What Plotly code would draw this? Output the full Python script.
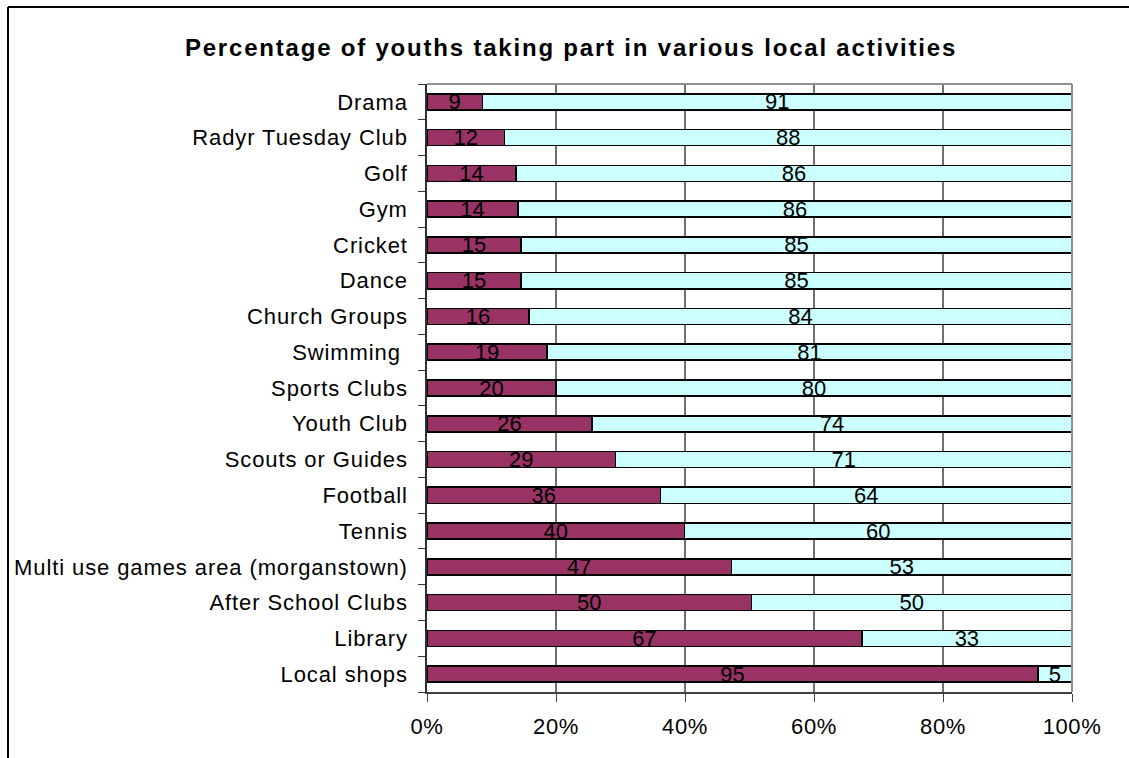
import plotly.graph_objects as go

# activities, top to bottom as in the chart
activities = [
    "Drama", "Radyr Tuesday Club", "Golf", "Gym", "Cricket", "Dance",
    "Church Groups", "Swimming ", "Sports Clubs", "Youth Club",
    "Scouts or Guides", "Football", "Tennis",
    "Multi use games area (morganstown)", "After School Clubs",
    "Library", "Local shops",
]

# percentage taking part / not taking part
take_part = [8.6, 12.0, 13.8, 14.1, 14.6, 14.6, 15.8, 18.6, 20.0, 25.6,
             29.2, 36.2, 39.9, 47.2, 50.3, 67.4, 94.7]
not_take_part = [91.4, 88.0, 86.2, 85.9, 85.4, 85.4, 84.2, 81.4, 80.0, 74.4,
                 70.8, 63.8, 60.1, 52.8, 49.7, 32.6, 5.3]

x_ticks = [0, 20, 40, 60, 80, 100]

FONT = "Liberation Sans, Arial, sans-serif"


def spaced(txt, px):
    # excel-ish loose letter spacing
    return f"<span style='letter-spacing:{px}px'>{txt}</span>"


fig = go.Figure()
for vals, colour in [(take_part, "#993366"), (not_take_part, "#CCFFFF")]:
    fig.add_trace(go.Bar(
        x=vals,
        y=activities,
        orientation="h",
        marker=dict(color=colour, line=dict(color="black", width=1.6)),
        texttemplate="%{x:.0f}",
        textposition="inside",
        insidetextanchor="middle",
        textangle=0,
        constraintext="none",
        textfont=dict(family=FONT, size=22, color="black"),
        showlegend=False,
        hoverinfo="skip",
    ))

# plot area in pixels: x 427..1072, y 84..692
L, R, T, B = 427, 1072, 84, 692
W, H = R - L, B - T


def px_x(p):
    return (p - L) / W


def px_y(p):
    return (B - p) / H


fig.update_layout(
    width=1129,
    height=758,
    barmode="stack",
    bargap=0.55,
    plot_bgcolor="white",
    paper_bgcolor="white",
    margin=dict(l=L, r=1129 - R, t=T, b=758 - B),
    font=dict(family=FONT, size=22, color="black"),
    title=dict(
        text="<b>" + spaced("Percentage of youths taking part in various local activities", 1.8) + "</b>",
        font=dict(family=FONT, size=24, color="black"),
        xref="container", x=571 / 1129, xanchor="center",
        yref="container", y=1 - 48 / 758, yanchor="middle",
    ),
    xaxis=dict(
        range=[0, 100],
        tickmode="array",
        tickvals=x_ticks,
        ticktext=[spaced(f"{v}%", 0.6) for v in x_ticks],
        showgrid=True,
        gridcolor="#707070",
        gridwidth=1.5,
        showline=True,
        linecolor="#404040",
        linewidth=1.5,
        ticks="outside",
        ticklen=8,
        tickcolor="#404040",
        ticklabelstandoff=6,
        tickfont=dict(size=22),
        zeroline=False,
        fixedrange=True,
        automargin=False,
    ),
    yaxis=dict(
        autorange="reversed",
        tickmode="array",
        tickvals=activities,
        ticktext=[spaced(a, 0.9) for a in activities],
        showline=True,
        linecolor="#303030",
        linewidth=1.5,
        ticks="outside",
        tickson="boundaries",
        ticklen=7,
        tickcolor="#303030",
        ticklabelstandoff=13,
        tickfont=dict(size=22),
        showgrid=False,
        fixedrange=True,
        automargin=False,
    ),
    shapes=[
        # grey top and right border of plot area
        dict(type="line", xref="paper", yref="paper", x0=0, x1=1, y0=1, y1=1,
             line=dict(color="#909090", width=2)),
        dict(type="line", xref="paper", yref="paper", x0=1, x1=1, y0=0, y1=1,
             line=dict(color="#909090", width=2)),
        # outer chart frame (left and top edges)
        dict(type="line", xref="paper", yref="paper",
             x0=px_x(8), x1=px_x(1135), y0=px_y(7), y1=px_y(7),
             line=dict(color="black", width=2)),
        dict(type="line", xref="paper", yref="paper",
             x0=px_x(8), x1=px_x(8), y0=px_y(7), y1=px_y(765),
             line=dict(color="black", width=2)),
    ],
)

fig.write_html(
    "out.html",
    config={"displayModeBar": False},
    post_script="document.body.style.margin='0px';",
)
